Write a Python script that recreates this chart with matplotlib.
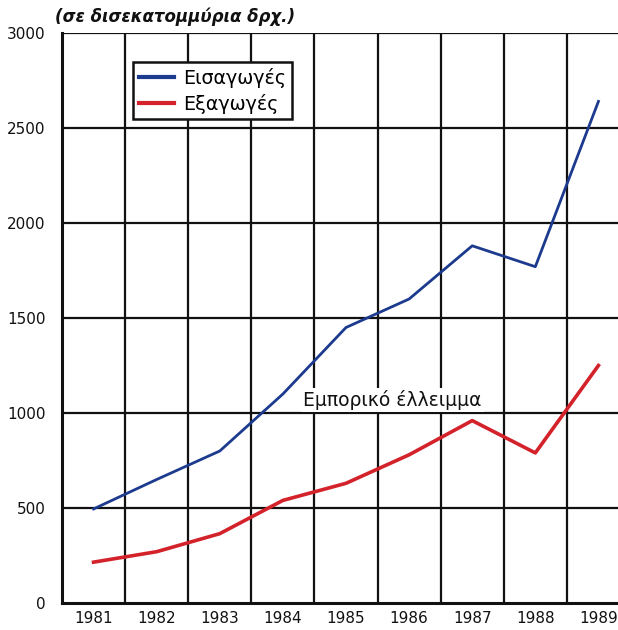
import matplotlib
matplotlib.use("Agg")
import matplotlib.pyplot as plt
from matplotlib import font_manager
import numpy as np

years = ["1981", "1982", "1983", "1984", "1985", "1986", "1987", "1988", "1989"]
imports = [495, 650, 800, 1100, 1450, 1600, 1880, 1770, 2640]
exports = [215, 270, 365, 540, 630, 780, 960, 790, 1250]
y_ticks = [0, 500, 1000, 1500, 2000, 2500, 3000]

plt.rcParams["font.family"] = ["DejaVu Sans"]

# narrow face for the numeric tick labels when one is installed
installed = {f.name for f in font_manager.fontManager.ttflist}
tick_family = "DejaVu Sans"
tick_size = 11
for fam, size in (("Liberation Sans Narrow", 14.5), ("DejaVu Sans Condensed", 12.5)):
    if fam in installed:
        tick_family, tick_size = fam, size
        break

fig = plt.figure(figsize=(6.18, 6.30), dpi=100)
ax = fig.add_axes([62 / 618, 1 - 603 / 630, (630 - 62) / 618, (603 - 33) / 630])

x = np.arange(len(years))
ax.set_xlim(-0.5, len(years) - 0.5)
ax.set_ylim(0, 3000)

# grid: column boundaries and every 500
for b in np.arange(0.5, len(years) - 0.5, 1.0):
    ax.axvline(b, color="#111111", lw=1.6, zorder=1)
for t in y_ticks[1:]:
    ax.axhline(t, color="#111111", lw=1.6, zorder=1)

ax.plot(x, imports, color="#1c3a8e", lw=2.0, label="Εισαγωγές", zorder=3)
ax.plot(x, exports, color="#d4222b", lw=2.6, label="Εξαγωγές", zorder=3)

ax.set_xticks(x)
ax.set_xticklabels(years)
ax.set_yticks(y_ticks)
ax.set_yticklabels([str(t) for t in y_ticks])
ax.tick_params(axis="both", length=0, labelsize=tick_size, colors="#111111")
ax.tick_params(axis="x", pad=6)
ax.tick_params(axis="y", pad=12)
for lab in ax.get_xticklabels() + ax.get_yticklabels():
    lab.set_family(tick_family)

for s in ("top", "right"):
    ax.spines[s].set_visible(False)
for s in ("left", "bottom"):
    ax.spines[s].set_linewidth(2.2)
    ax.spines[s].set_color("#111111")

leg = ax.legend(loc="upper left", bbox_to_anchor=((133 - 62) / 568, 1 - (62 - 33) / 570),
                frameon=True, fancybox=False, fontsize=13.8, handlelength=1.85,
                borderpad=0.3, labelspacing=0.3, handletextpad=0.45, borderaxespad=0)
leg.get_frame().set_edgecolor("#111111")
leg.get_frame().set_linewidth(1.8)
leg.get_frame().set_alpha(1)
for line in leg.get_lines():
    line.set_linewidth(3.0)

ax.text(4.74, 1068, "Εμπορικό έλλειμμα", ha="center", va="center", fontsize=13.5,
        color="#111111", zorder=4,
        bbox=dict(facecolor="white", edgecolor="none", pad=1.5))

fig.text(55 / 618, 1 - 17 / 630, "(σε δισεκατομμύρια δρχ.)", ha="left", va="center",
         fontsize=12, fontstyle="italic", fontweight="bold", color="#111111")

fig.savefig("out.png", dpi=100)
